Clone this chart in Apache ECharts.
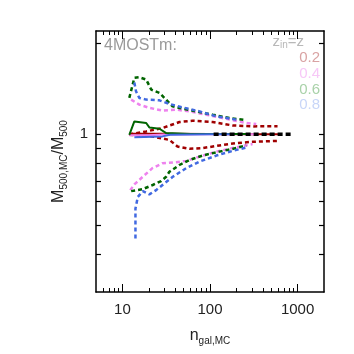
<!DOCTYPE html>
<html><head><meta charset="utf-8">
<script src="https://cdn.jsdelivr.net/npm/echarts@6/dist/echarts.min.js"></script>
<style>html,body{margin:0;padding:0;background:#fff}#c{width:354px;height:354px}</style>
</head><body><div id="c"></div>
<script>
// ---- data ----
const xMajorTicks = [10, 100, 1000];
const xMinorTicks = [6,7,8,9,20,30,40,50,60,70,80,90,200,300,400,500,600,700,800,900];
const yTicks = [0.4,0.5,0.6,0.7,0.8,0.9,1,2];
const yLabels = [1];
const legendLabels = ['0.2','0.4','0.6','0.8'];

const redMed   = [[12,1.004],[30,1.005],[100,1.003],[300,1.001],[600,1.0]];
const redUp    = [[12,1.0],[18.7,1.022],[28.7,1.049],[44.8,1.098],[63.1,1.109],[107,1.098],[181,1.070],[306,1.062],[590,1.064]];
const redLo    = [[12,0.996],[22,0.983],[34.4,0.958],[42.5,0.911],[58.3,0.895],[82.1,0.900],[128,0.918],[199,0.935],[306,0.944],[590,0.951]];

const pinkMed  = [[12,0.992],[20,0.992],[30,0.998],[100,1.0],[340,1.0]];
const pinkUp   = [[12.6,1.303],[15.6,1.254],[20.3,1.223],[28.7,1.198],[41.1,1.207],[58.3,1.191],[90.5,1.161],[139,1.132],[259,1.090],[337,1.081]];
const pinkLo   = [[12.3,0.653],[13.7,0.682],[17.1,0.723],[22,0.772],[28.7,0.802],[41.1,0.808],[53.5,0.816],[75.9,0.843],[118,0.876],[181,0.900],[306,0.928]];

const greenMed = [[12,0.996],[13.7,1.103],[18.7,1.090],[20.3,1.054],[26.5,1.043],[31.6,1.009],[60,1.003],[260,1.003]];
const greenUp  = [[12,1.32],[13.7,1.539],[15.6,1.546],[18.7,1.519],[21.3,1.407],[26.5,1.372],[30.2,1.32],[37.3,1.238],[44.8,1.223],[69.5,1.191],[107,1.161],[167,1.132],[248,1.115]];
const greenLo  = [[12.6,0.648],[17.1,0.658],[22.2,0.679],[27.7,0.700],[31.6,0.723],[34.4,0.751],[44.8,0.791],[58.3,0.822],[82.1,0.850],[128,0.876],[199,0.900],[259,0.918]];

const blueMed  = [[13.7,0.978],[28.7,0.984],[35,0.997],[100,1.0],[170,1.0]];
const blueUp   = [[13.7,1.485],[14.3,1.389],[15.6,1.320],[18.7,1.303],[26.5,1.296],[34.4,1.261],[48.5,1.228],[75.9,1.191],[118,1.147],[200,1.118]];
const blueLo   = [[14.1,0.451],[14.1,0.567],[15.0,0.620],[17.1,0.648],[20.3,0.632],[24.3,0.653],[28.7,0.679],[37.6,0.723],[53.5,0.772],[75.9,0.812],[118,0.850],[181,0.881],[259,0.904]];

const blackRef = [[110,1.0],[900,1.0]];

// ---- styles ----
const C = {red:'#a00000', pink:'#ee82ee', green:'#006400', blue:'#4169e1', black:'#000'};
const LC = ['#d9a3a3','#f7c8f7','#a9d2a9','#c8d6f8'];
const FONT = '"Liberation Sans", Arial, sans-serif';

function dashed(data, color, z){
  return {type:'line', data, showSymbol:false, symbol:'none', silent:true, z:z||2,
    lineStyle:{color, width:2.5, type:[4,3]}};
}
function solid(data, color, z){
  return {type:'line', data, showSymbol:false, symbol:'none', silent:true, z:z||3,
    lineStyle:{color, width:2}};
}

const xBase = {type:'log', logBase:10, min:5, max:2000, splitLine:{show:false}, gridIndex:0};
const yBase = {type:'log', logBase:10, min:0.3, max:2.2, splitLine:{show:false}, gridIndex:0};
const axLine = {show:true, lineStyle:{color:'#000', width:1.5}};

const chart = echarts.init(document.getElementById('c'), null, {renderer:'canvas'});
chart.setOption({
  animation:false,
  backgroundColor:'#fff',
  grid:{left:96, right:30, top:31, bottom:62},
  xAxis:[
    Object.assign({}, xBase, {position:'bottom', axisLine:axLine,
      axisTick:{show:true, inside:true, length:8, customValues:xMajorTicks, lineStyle:{color:'#000', width:1}},
      axisLabel:{show:true, customValues:xMajorTicks, margin:10, fontSize:15, color:'#222', fontFamily:FONT,
        formatter:v=>String(Math.round(v))},
      name:'{n|n}{s|gal,MC}', nameLocation:'middle', nameGap:34,
      nameTextStyle:{rich:{n:{fontSize:16, color:'#222', fontFamily:FONT, lineHeight:20, verticalAlign:'middle'},
                           s:{fontSize:10, color:'#222', fontFamily:FONT, lineHeight:10, verticalAlign:'bottom'}}}}),
    Object.assign({}, xBase, {position:'bottom', axisLine:{show:false},
      axisTick:{show:true, inside:true, length:4, customValues:xMinorTicks, lineStyle:{color:'#000', width:1}},
      axisLabel:{show:false}}),
    Object.assign({}, xBase, {position:'top', axisLine:axLine,
      axisTick:{show:true, inside:true, length:8, customValues:xMajorTicks, lineStyle:{color:'#000', width:1}},
      axisLabel:{show:false}}),
    Object.assign({}, xBase, {position:'top', axisLine:{show:false},
      axisTick:{show:true, inside:true, length:4, customValues:xMinorTicks, lineStyle:{color:'#000', width:1}},
      axisLabel:{show:false}})
  ],
  yAxis:[
    Object.assign({}, yBase, {position:'left', axisLine:axLine,
      axisTick:{show:true, inside:true, length:5, customValues:yTicks, lineStyle:{color:'#000', width:1.2}},
      axisLabel:{show:true, customValues:yLabels, margin:8, fontSize:15, color:'#222', fontFamily:FONT,
        formatter:v=>String(Math.round(v))},
      name:'{m|M}{s|500,MC}{m|/M}{s|500}', nameLocation:'middle', nameGap:21, nameRotate:90,
      nameTextStyle:{rich:{m:{fontSize:16, color:'#222', fontFamily:FONT, lineHeight:20, verticalAlign:'middle'},
                           s:{fontSize:10, color:'#222', fontFamily:FONT, lineHeight:10, verticalAlign:'bottom'}}}}),
    Object.assign({}, yBase, {position:'right', axisLine:axLine,
      axisTick:{show:true, inside:true, length:5, customValues:yTicks, lineStyle:{color:'#000', width:1.2}},
      axisLabel:{show:false}})
  ],
  series:[
    dashed(redUp, C.red), dashed(redLo, C.red),
    dashed(pinkUp, C.pink), dashed(pinkLo, C.pink),
    dashed(greenUp, C.green), dashed(greenLo, C.green),
    dashed(blueUp, C.blue), dashed(blueLo, C.blue),
    solid(redMed, C.red), solid(pinkMed, C.pink), solid(greenMed, C.green), solid(blueMed, C.blue),
    {type:'line', data:blackRef, showSymbol:false, symbol:'none', silent:true, z:5,
      lineStyle:{color:'#000', width:3.5, type:[5,3]}}
  ],
  graphic:[
    {type:'text', left:104, top:38, style:{text:'4MOSTm:', fontSize:16, fontFamily:FONT, fill:'#9a9a9a'}},
    {type:'text', right:50, top:34, style:{text:'{z|z}{s|in}{z|=z}', fontFamily:FONT,
      rich:{z:{fontSize:15, fill:'#b8b8b8', lineHeight:18, verticalAlign:'middle'},
            s:{fontSize:10, fill:'#b8b8b8', lineHeight:9, verticalAlign:'bottom'}}}},
    {type:'text', right:34, top:50, style:{text:legendLabels[0], fontSize:15, fontFamily:FONT, fill:LC[0]}},
    {type:'text', right:34, top:66, style:{text:legendLabels[1], fontSize:15, fontFamily:FONT, fill:LC[1]}},
    {type:'text', right:34, top:82, style:{text:legendLabels[2], fontSize:15, fontFamily:FONT, fill:LC[2]}},
    {type:'text', right:34, top:97, style:{text:legendLabels[3], fontSize:15, fontFamily:FONT, fill:LC[3]}}
  ]
});
</script></body></html>
